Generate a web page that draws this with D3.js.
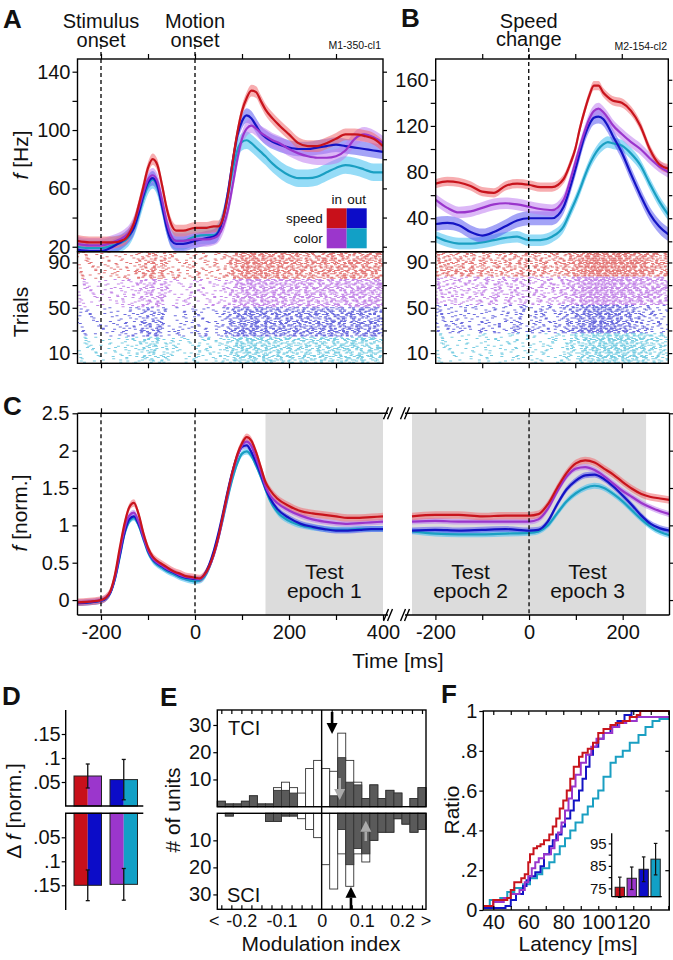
<!DOCTYPE html>
<html><head><meta charset="utf-8">
<script src="https://cdn.jsdelivr.net/npm/d3@7/dist/d3.min.js"></script>
<style>
html,body{margin:0;padding:0;background:#fff;}
svg text{font-family:"Liberation Sans",Arial,Helvetica,sans-serif;fill:#111;}
</style></head><body>
<script>
// ================= DATA =================
const conds = ['red','purple','blue','cyan'];
const lineColors = ['#c8141c','#9a35cc','#1414c4','#1a9fc2'];
const bandColors = ['#f06a70','#c07ef0','#5a5af0','#40c0f0'];
const rasterColors = ['#d94a4a','#b262e0','#3a3ad2','#4cbcd8'];
const barColors = {red:'#c8101a', purple:'#9b36cc', blue:'#0c0cc8', cyan:'#12a0c6'};

// Panel A (Hz)
const tA = [-250,-225,-200,-175,-150,-140,-130,-120,-110,-100,-90,-80,-70,-60,-50,-40,-25,0,25,40,50,60,70,80,90,100,110,120,130,140,150,165,180,200,220,240,260,280,300,320,340,360,380,400];
const aRed    = [24,23,23,23,25,29,36,48,61,74,80,76,62,46,35,31,31,33,33,34,34,40,55,78,98,113,122,127,126,120,114,108,103,97,91,89,89,91,94,97,97,96,94,89];
const aPurple = [22,21,21,23,27,30,36,46,57,66,69,65,52,37,27,24,24,25,25,26,28,34,45,62,80,94,101,103,101,98,96,93,91,87,84,82,81,81,82,86,94,97,95,91];
const aBlue   = [18,17,17,20,25,28,33,43,55,64,67,62,48,33,24,22,22,24,26,27,30,40,57,78,96,106,110,108,103,98,95,92,90,88,87,87,88,89,90,89,88,87,86,85];
const aCyan   = [20,19,19,21,24,27,33,42,53,62,66,61,48,34,26,24,24,27,28,28,31,40,55,72,86,92,93,91,88,85,82,77,73,69,67,67,68,71,74,76,75,73,71,71];
const semA = [4,5,5,6];
const trialsA = [[76,100],[51,75],[25,50],[1,24]];

// Panel B (Hz)
const tB = [-200,-175,-150,-125,-100,-75,-50,-25,0,25,50,75,90,100,110,120,130,140,150,160,170,180,200,220,240,260,280,300];
const bRed    = [70,72,71,68,63,62,68,70,69,67,67,74,88,100,118,133,146,155,155,149,145,142,140,133,120,100,87,83];
const bPurple = [56,49,45,46,49,52,53,52,50,48,47,56,74,88,102,115,126,133,135,132,127,121,113,106,100,92,85,80];
const bBlue   = [35,36,34,28,25,28,33,38,40,40,40,50,68,82,97,111,121,127,128,126,120,112,97,78,60,44,33,26];
const bCyan   = [24,20,18,18,19,21,23,24,21,21,24,33,46,55,65,76,86,94,100,104,106,105,103,96,86,70,55,43];
const semB = [4,5,6,5];
const trialsB = [[78,100],[53,77],[28,52],[1,27]];

// Panel C (normalized)
const tCL = [-250,-225,-200,-190,-180,-170,-160,-150,-140,-130,-120,-110,-100,-90,-80,-70,-60,-50,-40,-30,-20,-10,0,10,20,30,40,50,60,70,80,90,100,110,120,130,140,150,160,175,200,225,250,275,300,325,350,375,400];
const cRedL    = [-0.03,-0.02,0.0,0.03,0.12,0.35,0.7,1.02,1.24,1.3,1.15,0.9,0.7,0.58,0.52,0.48,0.44,0.4,0.37,0.35,0.32,0.31,0.3,0.29,0.34,0.45,0.62,0.85,1.15,1.45,1.72,1.95,2.1,2.18,2.13,1.98,1.78,1.58,1.47,1.36,1.26,1.19,1.16,1.14,1.12,1.1,1.1,1.11,1.12];
const cPurpleL = [-0.03,-0.02,0,0.03,0.11,0.32,0.64,0.95,1.13,1.17,1.05,0.85,0.67,0.56,0.5,0.46,0.42,0.39,0.36,0.33,0.31,0.3,0.29,0.28,0.33,0.44,0.6,0.83,1.12,1.42,1.7,1.92,2.07,2.12,2.06,1.9,1.72,1.52,1.4,1.3,1.2,1.13,1.08,1.05,1.03,1.02,1.03,1.04,1.05];
const cBlueL   = [-0.04,-0.03,-0.01,0.02,0.1,0.3,0.6,0.9,1.08,1.12,1.02,0.84,0.66,0.55,0.49,0.45,0.41,0.38,0.35,0.32,0.3,0.29,0.28,0.28,0.34,0.47,0.66,0.9,1.18,1.47,1.73,1.93,2.05,2.07,1.98,1.84,1.68,1.5,1.36,1.22,1.1,1.02,0.98,0.95,0.93,0.93,0.94,0.95,0.95];
const cCyanL   = [-0.04,-0.03,-0.01,0.02,0.1,0.29,0.58,0.88,1.05,1.1,1.0,0.82,0.64,0.53,0.47,0.43,0.39,0.36,0.33,0.3,0.28,0.26,0.25,0.26,0.31,0.43,0.61,0.84,1.1,1.38,1.63,1.83,1.96,1.99,1.93,1.8,1.65,1.48,1.33,1.18,1.06,1.0,0.97,0.95,0.94,0.94,0.95,0.95,0.95];
const tCR = [-250,-200,-150,-100,-50,0,20,40,60,80,100,120,140,160,180,200,220,240,260,280,300];
const cRedR    = [1.12,1.14,1.14,1.12,1.13,1.13,1.15,1.28,1.5,1.7,1.83,1.87,1.84,1.76,1.68,1.58,1.49,1.42,1.38,1.36,1.34];
const cPurpleR = [1.05,1.06,1.05,1.05,1.05,1.05,1.08,1.22,1.45,1.65,1.76,1.78,1.74,1.66,1.56,1.46,1.38,1.3,1.24,1.19,1.15];
const cBlueR   = [0.93,0.94,0.93,0.94,0.95,0.93,0.94,1.05,1.28,1.48,1.6,1.67,1.68,1.62,1.52,1.4,1.27,1.13,1.02,0.96,0.93];
const cCyanR   = [0.92,0.89,0.88,0.88,0.89,0.9,0.92,1.0,1.16,1.32,1.43,1.5,1.53,1.5,1.42,1.32,1.2,1.08,0.98,0.91,0.87];
const semC = [0.05,0.04,0.04,0.04];
const epochs = [{seg:'L',from:150,to:400,label:['Test','epoch 1']},{seg:'R',from:-250,to:0,label:['Test','epoch 2']},{seg:'R',from:0,to:250,label:['Test','epoch 3']}];

// Panel D
const dUpperVals = [0.0625, 0.055];
const dUpperErr  = [0.025, 0.042];
const dUpperPairs = [['red','purple'],['blue','cyan']];
const dLowerVals = [0.15, 0.148];
const dLowerErr  = [0.032, 0.033];
const dLowerPairs = [['red','blue'],['purple','cyan']];

// Panel E (26 bins of 0.02 from -0.26 to 0.26; end bins = overflow)
const eBinStart = -0.26, eBinWidth = 0.02;
const tciAll = [2,1,1,2,4,1,1,7,9,7,5,14,17,14,13,27,17,9,3,8,3,6,5,0,3,7];
const tciSig = [2,1,1,2,4,1,1,6,6,5,0,0,0,0,4,18,9,8,3,8,3,6,5,0,3,7];
const sciAll = [0,1,0,0,0,0,3,3,1,1,2,6,9,19,28,15,27,15,18,10,7,7,2,4,7,6];
const sciSig = [0,1,0,0,0,0,3,3,1,1,0,0,0,0,0,6,19,13,15,10,7,7,2,4,7,6];
const tciArrows = [{v:0.026,c:'#000'},{v:0.045,c:'#aaa'}];
const sciArrows = [{v:0.073,c:'#000'},{v:0.11,c:'#aaa'}];

// Panel F (cumulative latency distributions, ms)
const fLatRed = [34,40,44,48,50,52,56,58,60,61,63,65,67,69,72,74,76,78,80,82,84,86,89,91,94,97,100,103,107,110,114,118,122,124,141];
const fRatRed = [0.02,0.05,0.05,0.06,0.1,0.14,0.16,0.18,0.24,0.28,0.31,0.32,0.33,0.35,0.38,0.42,0.46,0.51,0.55,0.6,0.66,0.72,0.77,0.79,0.81,0.84,0.89,0.91,0.93,0.94,0.95,0.97,0.98,1.0,1.0];
const fLatPurple = [34,40,46,50,55,58,60,62,64,66,69,73,75,77,79,81,83,85,87,90,93,96,99,103,108,112,116,122,141];
const fRatPurple = [0.02,0.04,0.06,0.08,0.1,0.14,0.17,0.21,0.24,0.26,0.28,0.31,0.35,0.39,0.44,0.5,0.56,0.62,0.68,0.74,0.78,0.82,0.86,0.89,0.92,0.94,0.95,0.97,0.97];
const fLatBlue = [34,47,50,53,57,59,61,64,67,69,72,74,76,79,81,84,86,89,91,93,95,97,100,103,107,111,115,119,141];
const fRatBlue = [0.01,0.02,0.05,0.08,0.12,0.15,0.17,0.19,0.22,0.28,0.32,0.35,0.38,0.42,0.46,0.5,0.55,0.6,0.66,0.72,0.78,0.82,0.86,0.89,0.92,0.95,0.98,1.0,1.0];
const fLatCyan = [34,38,44,48,52,57,61,65,68,72,75,78,81,84,87,91,94,97,100,103,107,110,114,118,123,127,131,135,141];
const fRatCyan = [0.02,0.05,0.06,0.09,0.11,0.13,0.16,0.18,0.21,0.24,0.28,0.32,0.36,0.4,0.44,0.48,0.52,0.56,0.6,0.67,0.74,0.77,0.8,0.84,0.88,0.92,0.95,0.96,0.97];
const fInsetVals = [75.5, 79.5, 83.5, 88];
const fInsetErr  = [4.5, 5, 5.5, 7];

// ================= DRAWING =================
const FONT = '"Liberation Sans", Arial, Helvetica, sans-serif';
const svg = d3.select('body').append('svg').attr('width',673).attr('height',960).attr('font-family',FONT);
const defs = svg.append('defs');
let clipN = 0;
function clip(x,y,w,h){const id='cp'+(clipN++);defs.append('clipPath').attr('id',id).append('rect').attr('x',x).attr('y',y).attr('width',w).attr('height',h);return 'url(#'+id+')';}
function txt(x,y,s,o={}){return svg.append('text').attr('x',x).attr('y',y).attr('font-size',o.size||20).attr('text-anchor',o.anchor||'start').attr('font-weight',o.weight||'normal').text(s);}
function rot(x,y,parts,size){const t=svg.append('text').attr('transform',`translate(${x},${y}) rotate(-90)`).attr('text-anchor','middle').attr('font-size',size||21);parts.forEach(p=>t.append('tspan').attr('font-style',p[1]?'italic':'normal').text(p[0]));return t;}
function ax(axisFn, scale, vals, o={}){
  const a = axisFn(scale).tickValues(vals).tickSizeInner(o.size===undefined?5:o.size).tickSizeOuter(0).tickPadding(o.pad===undefined?3:o.pad);
  if(o.fmt===null) a.tickFormat(''); else if(o.fmt) a.tickFormat(o.fmt);
  const g = svg.append('g').attr('transform',`translate(${o.tx||0},${o.ty||0})`).call(a);
  g.select('.domain').remove();
  g.attr('font-size',o.fs||20).attr('font-family',FONT);
  g.selectAll('line').attr('stroke','#000').attr('stroke-width',1.2);
  g.selectAll('text').attr('fill','#111');
  return g;
}
function box(x0,y0,x1,y1,w){svg.append('rect').attr('x',x0).attr('y',y0).attr('width',x1-x0).attr('height',y1-y0).attr('fill','none').attr('stroke','#000').attr('stroke-width',w||1.4);}
function vdash(x,y0,y1){svg.append('line').attr('x1',x).attr('x2',x).attr('y1',y0).attr('y2',y1).attr('stroke','#000').attr('stroke-width',1.3).attr('stroke-dasharray','4,3');}
const frac = v => v - Math.floor(v);
function interp(ts,vs,t){const i=d3.bisectRight(ts,t);if(i<=0)return vs[0];if(i>=ts.length)return vs[vs.length-1];const f=(t-ts[i-1])/(ts[i]-ts[i-1]);return vs[i-1]+f*(vs[i]-vs[i-1]);}
// spikes derived deterministically from each condition's firing-rate curve (integrate-and-fire)
function spikeTimes(ts,vs,trial,t0,t1){
  const out=[];const gain=0.75+0.4*frac(trial*0.38196601);
  let n=0;let thr=0.3+1.4*frac(trial*0.7548776662);let acc=frac(trial*0.6180339887)*thr;
  for(let t=t0;t<=t1;t+=1){acc+=interp(ts,vs,t)*gain/1000;if(acc>=thr){out.push(t);acc-=thr;n++;thr=0.3+1.4*frac(trial*0.7548776662+n*0.569840291);}}
  return out;
}
function ratePanel(c){
  const {x,y,yR,times,series,sems,trials,left,right,top,mid,bot} = c;
  const cp = clip(left,top,right-left,mid-top);
  const gB = svg.append('g').attr('clip-path',cp);
  const gL = svg.append('g').attr('clip-path',cp);
  for(let k=3;k>=0;k--){
    const vals=series[k];
    const area=d3.area().x((d,i)=>x(times[i])).y0(d=>y(d-sems[k])).y1(d=>y(d+sems[k])).curve(d3.curveMonotoneX);
    gB.append('path').datum(vals).attr('d',area).attr('fill',bandColors[k]).attr('fill-opacity',0.55);
  }
  for(let k=3;k>=0;k--){
    const line=d3.line().x((d,i)=>x(times[i])).y(d=>y(d)).curve(d3.curveMonotoneX);
    gL.append('path').datum(series[k]).attr('d',line).attr('fill','none').attr('stroke',lineColors[k]).attr('stroke-width',2.2);
  }
  // raster
  const cpR = clip(left,mid,right-left,bot-mid);
  const gR = svg.append('g').attr('clip-path',cpR);
  const [t0,t1]=x.domain();
  for(let k=0;k<4;k++){
    let d='';
    for(let tr=trials[k][0];tr<=trials[k][1];tr++){
      const yy=yR(tr);
      spikeTimes(times,series[k],tr*7+k*131,t0,t1).forEach(t=>{d+=`M${(x(t)-1.5).toFixed(1)},${(yy-0.5).toFixed(1)}h3v1h-3z`;});
    }
    gR.append('path').attr('d',d).attr('fill',rasterColors[k]).attr('fill-opacity',0.75);
  }
  box(left,top,right,mid);
  box(left,mid,right,bot);
}

// ---------- Panel A ----------
const xA = d3.scaleLinear().domain([-250,400]).range([77.5,383]);
const yA = d3.scaleLinear().domain([16.6,148.7]).range([251.7,59]);
const yRA = d3.scaleLinear().domain([1,99.5]).range([363.3,251.7]);
ratePanel({x:xA,y:yA,yR:yRA,times:tA,series:[aRed,aPurple,aBlue,aCyan],sems:semA,trials:trialsA,left:77.5,right:383,top:59,mid:251.7,bot:363.3});
ax(d3.axisLeft,yA,[20,60,100,140],{tx:77.5,pad:2});
ax(d3.axisLeft,yA,[40,80,120],{tx:77.5,fmt:null});
ax(d3.axisRight,yA,[20,40,60,80,100,120,140],{tx:383,fmt:null,size:4});
ax(d3.axisTop,xA,[-200,-100,0,100,200,300],{ty:59,fmt:null});
ax(d3.axisLeft,yRA,[10,50,90],{tx:77.5,pad:2});
ax(d3.axisLeft,yRA,[30,70],{tx:77.5,fmt:null});
ax(d3.axisRight,yRA,[10,30,50,70,90],{tx:383,fmt:null,size:4});
ax(d3.axisBottom,xA,[-200,-100,0,100,200,300],{ty:363.3,fmt:null});
vdash(xA(-200),38,363.3); vdash(xA(0),38,363.3);
txt(3,28,'A',{size:26,weight:'bold'});
txt(xA(-200),28,'Stimulus',{anchor:'middle'}); txt(xA(-200),47,'onset',{anchor:'middle'});
txt(xA(0),28,'Motion',{anchor:'middle'}); txt(xA(0),47,'onset',{anchor:'middle'});
txt(381,49,'M1-350-cl1',{size:10.5,anchor:'end'});
rot(28,155,[['f',true],[' [Hz]',false]]);
rot(28,312,[['Trials',false]]);
// legend
const legX=326.7, legY=208.3, legS=20;
[['red',0,0],['blue',1,0],['purple',0,1],['cyan',1,1]].forEach(([c,i,j])=>svg.append('rect').attr('x',legX+i*legS).attr('y',legY+j*legS).attr('width',legS).attr('height',legS).attr('fill',barColors[c]));
txt(legX+10,204,'in',{size:13.5,anchor:'middle'}); txt(legX+30,204,'out',{size:13.5,anchor:'middle'});
txt(legX-4,223,'speed',{size:13.5,anchor:'end'}); txt(legX-4,243,'color',{size:13.5,anchor:'end'});

// ---------- Panel B ----------
const xB = d3.scaleLinear().domain([-200,300]).range([435.7,668.3]);
const yB = d3.scaleLinear().domain([11,178]).range([251.7,59]);
const yRB = d3.scaleLinear().domain([1,99.5]).range([363.3,251.7]);
ratePanel({x:xB,y:yB,yR:yRB,times:tB,series:[bRed,bPurple,bBlue,bCyan],sems:semB,trials:trialsB,left:435.7,right:668.3,top:59,mid:251.7,bot:363.3});
ax(d3.axisLeft,yB,[40,80,120,160],{tx:435.7,pad:2});
ax(d3.axisLeft,yB,[20,60,100,140],{tx:435.7,fmt:null});
ax(d3.axisRight,yB,[20,40,60,80,100,120,140,160],{tx:668.3,fmt:null,size:4});
ax(d3.axisTop,xB,[-100,0,100,200],{ty:59,fmt:null});
ax(d3.axisLeft,yRB,[10,50,90],{tx:435.7,pad:2});
ax(d3.axisLeft,yRB,[30,70],{tx:435.7,fmt:null});
ax(d3.axisRight,yRB,[10,30,50,70,90],{tx:668.3,fmt:null,size:4});
ax(d3.axisBottom,xB,[-100,0,100,200],{ty:363.3,fmt:null});
vdash(xB(0),48,363.3);
txt(401,27,'B',{size:26,weight:'bold'});
txt(xB(0),28,'Speed',{anchor:'middle'}); txt(xB(0),46,'change',{anchor:'middle'});
txt(667,50,'M2-154-cl2',{size:10.5,anchor:'end'});

// ---------- Panel C ----------
const cTop=413.3, cBot=615;
const xCL = d3.scaleLinear().domain([-250,400]).range([77.5,383]);
const xCR = d3.scaleLinear().domain([-250,300]).range([412,669.5]);
const yC = d3.scaleLinear().domain([-0.2,2.5]).range([cBot,cTop]);
epochs.forEach(e=>{const xs=e.seg==='L'?xCL:xCR;svg.append('rect').attr('x',xs(e.from)).attr('y',cTop).attr('width',xs(e.to)-xs(e.from)).attr('height',cBot-cTop).attr('fill','#dcdcdc');});
function cSeg(xs,times,series,x0,x1){
  const cp=clip(x0,cTop,x1-x0,cBot-cTop);
  const g=svg.append('g').attr('clip-path',cp);
  for(let k=3;k>=0;k--){
    const area=d3.area().x((d,i)=>xs(times[i])).y0(d=>yC(d-semC[k])).y1(d=>yC(d+semC[k])).curve(d3.curveMonotoneX);
    g.append('path').datum(series[k]).attr('d',area).attr('fill',bandColors[k]).attr('fill-opacity',0.55);
  }
  for(let k=3;k>=0;k--){
    const line=d3.line().x((d,i)=>xs(times[i])).y(d=>yC(d)).curve(d3.curveMonotoneX);
    g.append('path').datum(series[k]).attr('d',line).attr('fill','none').attr('stroke',lineColors[k]).attr('stroke-width',2.2);
  }
}
cSeg(xCL,tCL,[cRedL,cPurpleL,cBlueL,cCyanL],77.5,388);
cSeg(xCR,tCR,[cRedR,cPurpleR,cBlueR,cCyanR],404,669.5);
[[77.5,388],[405,669.5]].forEach(([a,b])=>{[cTop,cBot].forEach(yy=>svg.append('line').attr('x1',a).attr('x2',b).attr('y1',yy).attr('y2',yy).attr('stroke','#000').attr('stroke-width',1.4));});
svg.append('line').attr('x1',77.5).attr('x2',77.5).attr('y1',cTop).attr('y2',cBot).attr('stroke','#000').attr('stroke-width',1.4);
svg.append('line').attr('x1',669.5).attr('x2',669.5).attr('y1',cTop).attr('y2',cBot).attr('stroke','#000').attr('stroke-width',1.4);
[388,405].forEach(cx=>[cTop,cBot].forEach(yy=>{[-2,2].forEach(o=>svg.append('line').attr('x1',cx+o-2.5).attr('x2',cx+o+2.5).attr('y1',yy+6).attr('y2',yy-6).attr('stroke','#000').attr('stroke-width',1.4));}));
const fmtN = d=>String(d);
ax(d3.axisLeft,yC,[0,0.5,1,1.5,2,2.5],{tx:77.5,fmt:fmtN});
ax(d3.axisRight,yC,[0,0.5,1,1.5,2,2.5],{tx:669.5,fmt:null,size:4});
ax(d3.axisBottom,xCL,[-200,0,200,400],{ty:cBot,fmt:fmtN,pad:5});
ax(d3.axisBottom,xCL,[-100,100,300],{ty:cBot,fmt:null});
ax(d3.axisTop,xCL,[-200,-100,0,100,200,300],{ty:cTop,fmt:null});
ax(d3.axisBottom,xCR,[-200,0,200],{ty:cBot,fmt:fmtN,pad:5});
ax(d3.axisBottom,xCR,[-100,100],{ty:cBot,fmt:null});
ax(d3.axisTop,xCR,[-200,-100,0,100,200],{ty:cTop,fmt:null});
vdash(xCL(-200),cTop,cBot); vdash(xCL(0),cTop,cBot); vdash(xCR(0),cTop,cBot);
epochs.forEach(e=>{const xs=e.seg==='L'?xCL:xCR;const cx=(xs(e.from)+xs(e.to))/2;txt(cx,579,e.label[0],{anchor:'middle',size:21});txt(cx,598,e.label[1],{anchor:'middle',size:21});});
txt(3,415,'C',{size:26,weight:'bold'});
rot(27,513,[['f',true],[' [norm.]',false]]);
txt(398,668,'Time [ms]',{anchor:'middle',size:21});

// ---------- Panel D ----------
const dAxisX=65.7, dUpZero=806, dLoZero=813.3;
const yDU = d3.scaleLinear().domain([0,0.2]).range([dUpZero,710]);
const yDL = d3.scaleLinear().domain([0,0.2]).range([dLoZero,909.3]);
const xD = d3.scaleBand().domain([0,1]).range([69.75,141.75]).paddingInner(0.236).paddingOuter(0.118);
function dBars(yS,vals,errs,pairs,zero){
  vals.forEach((v,i)=>{
    const x0=xD(i), bw=xD.bandwidth();
    const yv=yS(v);
    const y0=Math.min(zero,yv), h=Math.abs(yv-zero);
    svg.append('rect').attr('x',x0).attr('y',y0).attr('width',bw/2).attr('height',h).attr('fill',barColors[pairs[i][0]]);
    svg.append('rect').attr('x',x0+bw/2).attr('y',y0).attr('width',bw/2).attr('height',h).attr('fill',barColors[pairs[i][1]]);
    svg.append('rect').attr('x',x0).attr('y',y0).attr('width',bw).attr('height',h).attr('fill','none').attr('stroke','#222').attr('stroke-width',1);
    const cx=x0+bw/2, ya=yS(v-errs[i]), yb=yS(v+errs[i]);
    svg.append('line').attr('x1',cx).attr('x2',cx).attr('y1',ya).attr('y2',yb).attr('stroke','#111').attr('stroke-width',1.3);
    [ya,yb].forEach(yy=>svg.append('line').attr('x1',cx-2).attr('x2',cx+2).attr('y1',yy).attr('y2',yy).attr('stroke','#111').attr('stroke-width',1.3));
  });
}
dBars(yDU,dUpperVals,dUpperErr,dUpperPairs,dUpZero);
dBars(yDL,dLowerVals,dLowerErr,dLowerPairs,dLoZero);
const fmtD = d=>String(d).replace(/^0/,'');
ax(d3.axisLeft,yDU,[0.05,0.1,0.15],{tx:dAxisX,fmt:fmtD,size:4,pad:1});
ax(d3.axisLeft,yDL,[0.05,0.1,0.15],{tx:dAxisX,fmt:fmtD,size:4,pad:1});
svg.append('line').attr('x1',dAxisX).attr('x2',dAxisX).attr('y1',710).attr('y2',dUpZero).attr('stroke','#000').attr('stroke-width',1.4);
svg.append('line').attr('x1',dAxisX).attr('x2',dAxisX).attr('y1',dLoZero).attr('y2',910).attr('stroke','#000').attr('stroke-width',1.4);
svg.append('line').attr('x1',65).attr('x2',143.3).attr('y1',dUpZero).attr('y2',dUpZero).attr('stroke','#000').attr('stroke-width',1.5);
svg.append('line').attr('x1',65).attr('x2',143.3).attr('y1',dLoZero).attr('y2',dLoZero).attr('stroke','#000').attr('stroke-width',1.5);
txt(2,705,'D',{size:26,weight:'bold'});
rot(21,811,[['\u0394 ',false],['f',true],[' [norm.]',false]]);

// ---------- Panel E ----------
const eL=217.3, eR=426, eTop=710, eUB=806.7, eLT=813.3, eBot=909.3;
const xE = d3.scaleLinear().domain([-0.26,0.26]).range([eL,eR]);
const yEU = d3.scaleLinear().domain([0,35.5]).range([eUB,eTop]);
const yEL = d3.scaleLinear().domain([0,35.5]).range([eLT,eBot]);
function eBars(all,sig,yS,zero){
  all.forEach((v,i)=>{
    const x0=xE(eBinStart+i*eBinWidth), x1=xE(eBinStart+(i+1)*eBinWidth);
    if(v>0){const yv=yS(v);svg.append('rect').attr('x',x0).attr('y',Math.min(zero,yv)).attr('width',x1-x0).attr('height',Math.abs(yv-zero)).attr('fill','#fff').attr('stroke','#333').attr('stroke-width',0.9);}
    const s=sig[i];
    if(s>0){const ys=yS(s);svg.append('rect').attr('x',x0).attr('y',Math.min(zero,ys)).attr('width',x1-x0).attr('height',Math.abs(ys-zero)).attr('fill','#5a5a5a').attr('stroke','#333').attr('stroke-width',0.9);}
  });
}
eBars(tciAll,tciSig,yEU,eUB);
eBars(sciAll,sciSig,yEL,eLT);
function arrow(xv,tail,tip,col){
  const cx=xE(xv), dir=Math.sign(tip-tail), headLen=11, hw=5.5;
  const base=tip-dir*headLen;
  svg.append('line').attr('x1',cx).attr('x2',cx).attr('y1',tail).attr('y2',base).attr('stroke',col).attr('stroke-width',2.6);
  svg.append('path').attr('d',`M${cx-hw},${base}L${cx+hw},${base}L${cx},${tip}Z`).attr('fill',col);
}
arrow(tciArrows[0].v,712,734,tciArrows[0].c);
arrow(tciArrows[1].v,778,800,tciArrows[1].c);
arrow(sciArrows[0].v,909,886.7,sciArrows[0].c);
arrow(sciArrows[1].v,841,820.7,sciArrows[1].c);
box(eL,eTop,eR,eUB); box(eL,eLT,eR,eBot);
svg.append('line').attr('x1',xE(0)).attr('x2',xE(0)).attr('y1',eTop).attr('y2',eBot).attr('stroke','#000').attr('stroke-width',1.4);
const eMinor = d3.range(-10,11).map(i=>i*0.025).filter(v=>Math.abs(v)>1e-9);
ax(d3.axisTop,xE,eMinor,{ty:eTop,fmt:null,size:-4});
ax(d3.axisBottom,xE,eMinor,{ty:eBot,fmt:null,size:-4});
ax(d3.axisBottom,xE,[-0.2,-0.1,0,0.1,0.2],{ty:eBot,fmt:d=>d===0?'0':String(d),size:0,pad:5,fs:18});
ax(d3.axisLeft,yEU,[10,20,30],{tx:eL,size:4,pad:2});
ax(d3.axisLeft,yEL,[10,20,30],{tx:eL,size:4,pad:2});
txt(eL-3,927,'<',{anchor:'middle',size:18}); txt(eR,927,'>',{anchor:'middle',size:18});
txt(228,735,'TCI',{size:20}); txt(227,902,'SCI',{size:20});
txt(160,706,'E',{size:26,weight:'bold'});
rot(180,810,[['# of units',false]]);
txt(321,951,'Modulation index',{anchor:'middle',size:21});

// ---------- Panel F ----------
const fL=483.3, fR=669.3, fT=711, fB=910;
const xF = d3.scaleLinear().domain([34.3,140.6]).range([fL,fR]);
const yF = d3.scaleLinear().domain([0,1]).range([fB,fT]);
const cdfs = [[fLatRed,fRatRed],[fLatPurple,fRatPurple],[fLatBlue,fRatBlue],[fLatCyan,fRatCyan]];
const gF = svg.append('g').attr('clip-path',clip(fL,fT-2,fR-fL,fB-fT+4));
for(let k=3;k>=0;k--){
  const [lx,ly]=cdfs[k];
  const line=d3.line().x((d,i)=>xF(lx[i])).y(d=>yF(d)).curve(d3.curveStepAfter);
  gF.append('path').datum(ly).attr('d',line).attr('fill','none').attr('stroke',lineColors[k]).attr('stroke-width',2);
}
box(fL,fT,fR,fB);
ax(d3.axisLeft,yF,[0,0.2,0.4,0.6,0.8,1],{tx:fL,fmt:d=>String(d).replace(/^0\./,'.'),size:4,pad:2});
ax(d3.axisRight,yF,[0.2,0.4,0.6,0.8],{tx:fR,fmt:null,size:-4});
ax(d3.axisBottom,xF,[40,50,60,70,80,90,100,110,120,130,140],{ty:fB,fmt:null,size:-4});
ax(d3.axisTop,xF,[40,50,60,70,80,90,100,110,120,130,140],{ty:fT,fmt:null,size:-4});
ax(d3.axisBottom,xF,[40,60,80,100,120],{ty:fB,size:0,pad:5});
// inset
const iL=611.7, iR=661.7, iT=833.3, iB=896.7;
const yI = d3.scaleLinear().domain([71.3,99.5]).range([iB,iT]);
const xI = d3.scaleBand().domain([0,1,2,3]).range([iL+2,iR]).paddingInner(0.22).paddingOuter(0.12);
fInsetVals.forEach((v,i)=>{
  const x0=xI(i), bw=xI.bandwidth();
  svg.append('rect').attr('x',x0).attr('y',yI(v)).attr('width',bw).attr('height',iB-yI(v)).attr('fill',barColors[conds[i]]).attr('stroke','#222').attr('stroke-width',1);
  const cx=x0+bw/2, ya=yI(v-fInsetErr[i]), yb=yI(v+fInsetErr[i]);
  svg.append('line').attr('x1',cx).attr('x2',cx).attr('y1',ya).attr('y2',yb).attr('stroke','#111').attr('stroke-width',1.2);
  [ya,yb].forEach(yy=>svg.append('line').attr('x1',cx-1.8).attr('x2',cx+1.8).attr('y1',yy).attr('y2',yy).attr('stroke','#111').attr('stroke-width',1.2));
});
svg.append('line').attr('x1',iL).attr('x2',iL).attr('y1',iT).attr('y2',iB).attr('stroke','#000').attr('stroke-width',1.3);
svg.append('line').attr('x1',iL).attr('x2',iR).attr('y1',iB).attr('y2',iB).attr('stroke','#000').attr('stroke-width',1.3);
ax(d3.axisLeft,yI,[75,85,95],{tx:iL,size:3,pad:2,fs:15});
ax(d3.axisLeft,yI,[80,90],{tx:iL,size:3,fmt:null});
txt(441,703,'F',{size:26,weight:'bold'});
rot(459,810,[['Ratio',false]]);
txt(578,951,'Latency [ms]',{anchor:'middle',size:21});
</script>
</body></html>
